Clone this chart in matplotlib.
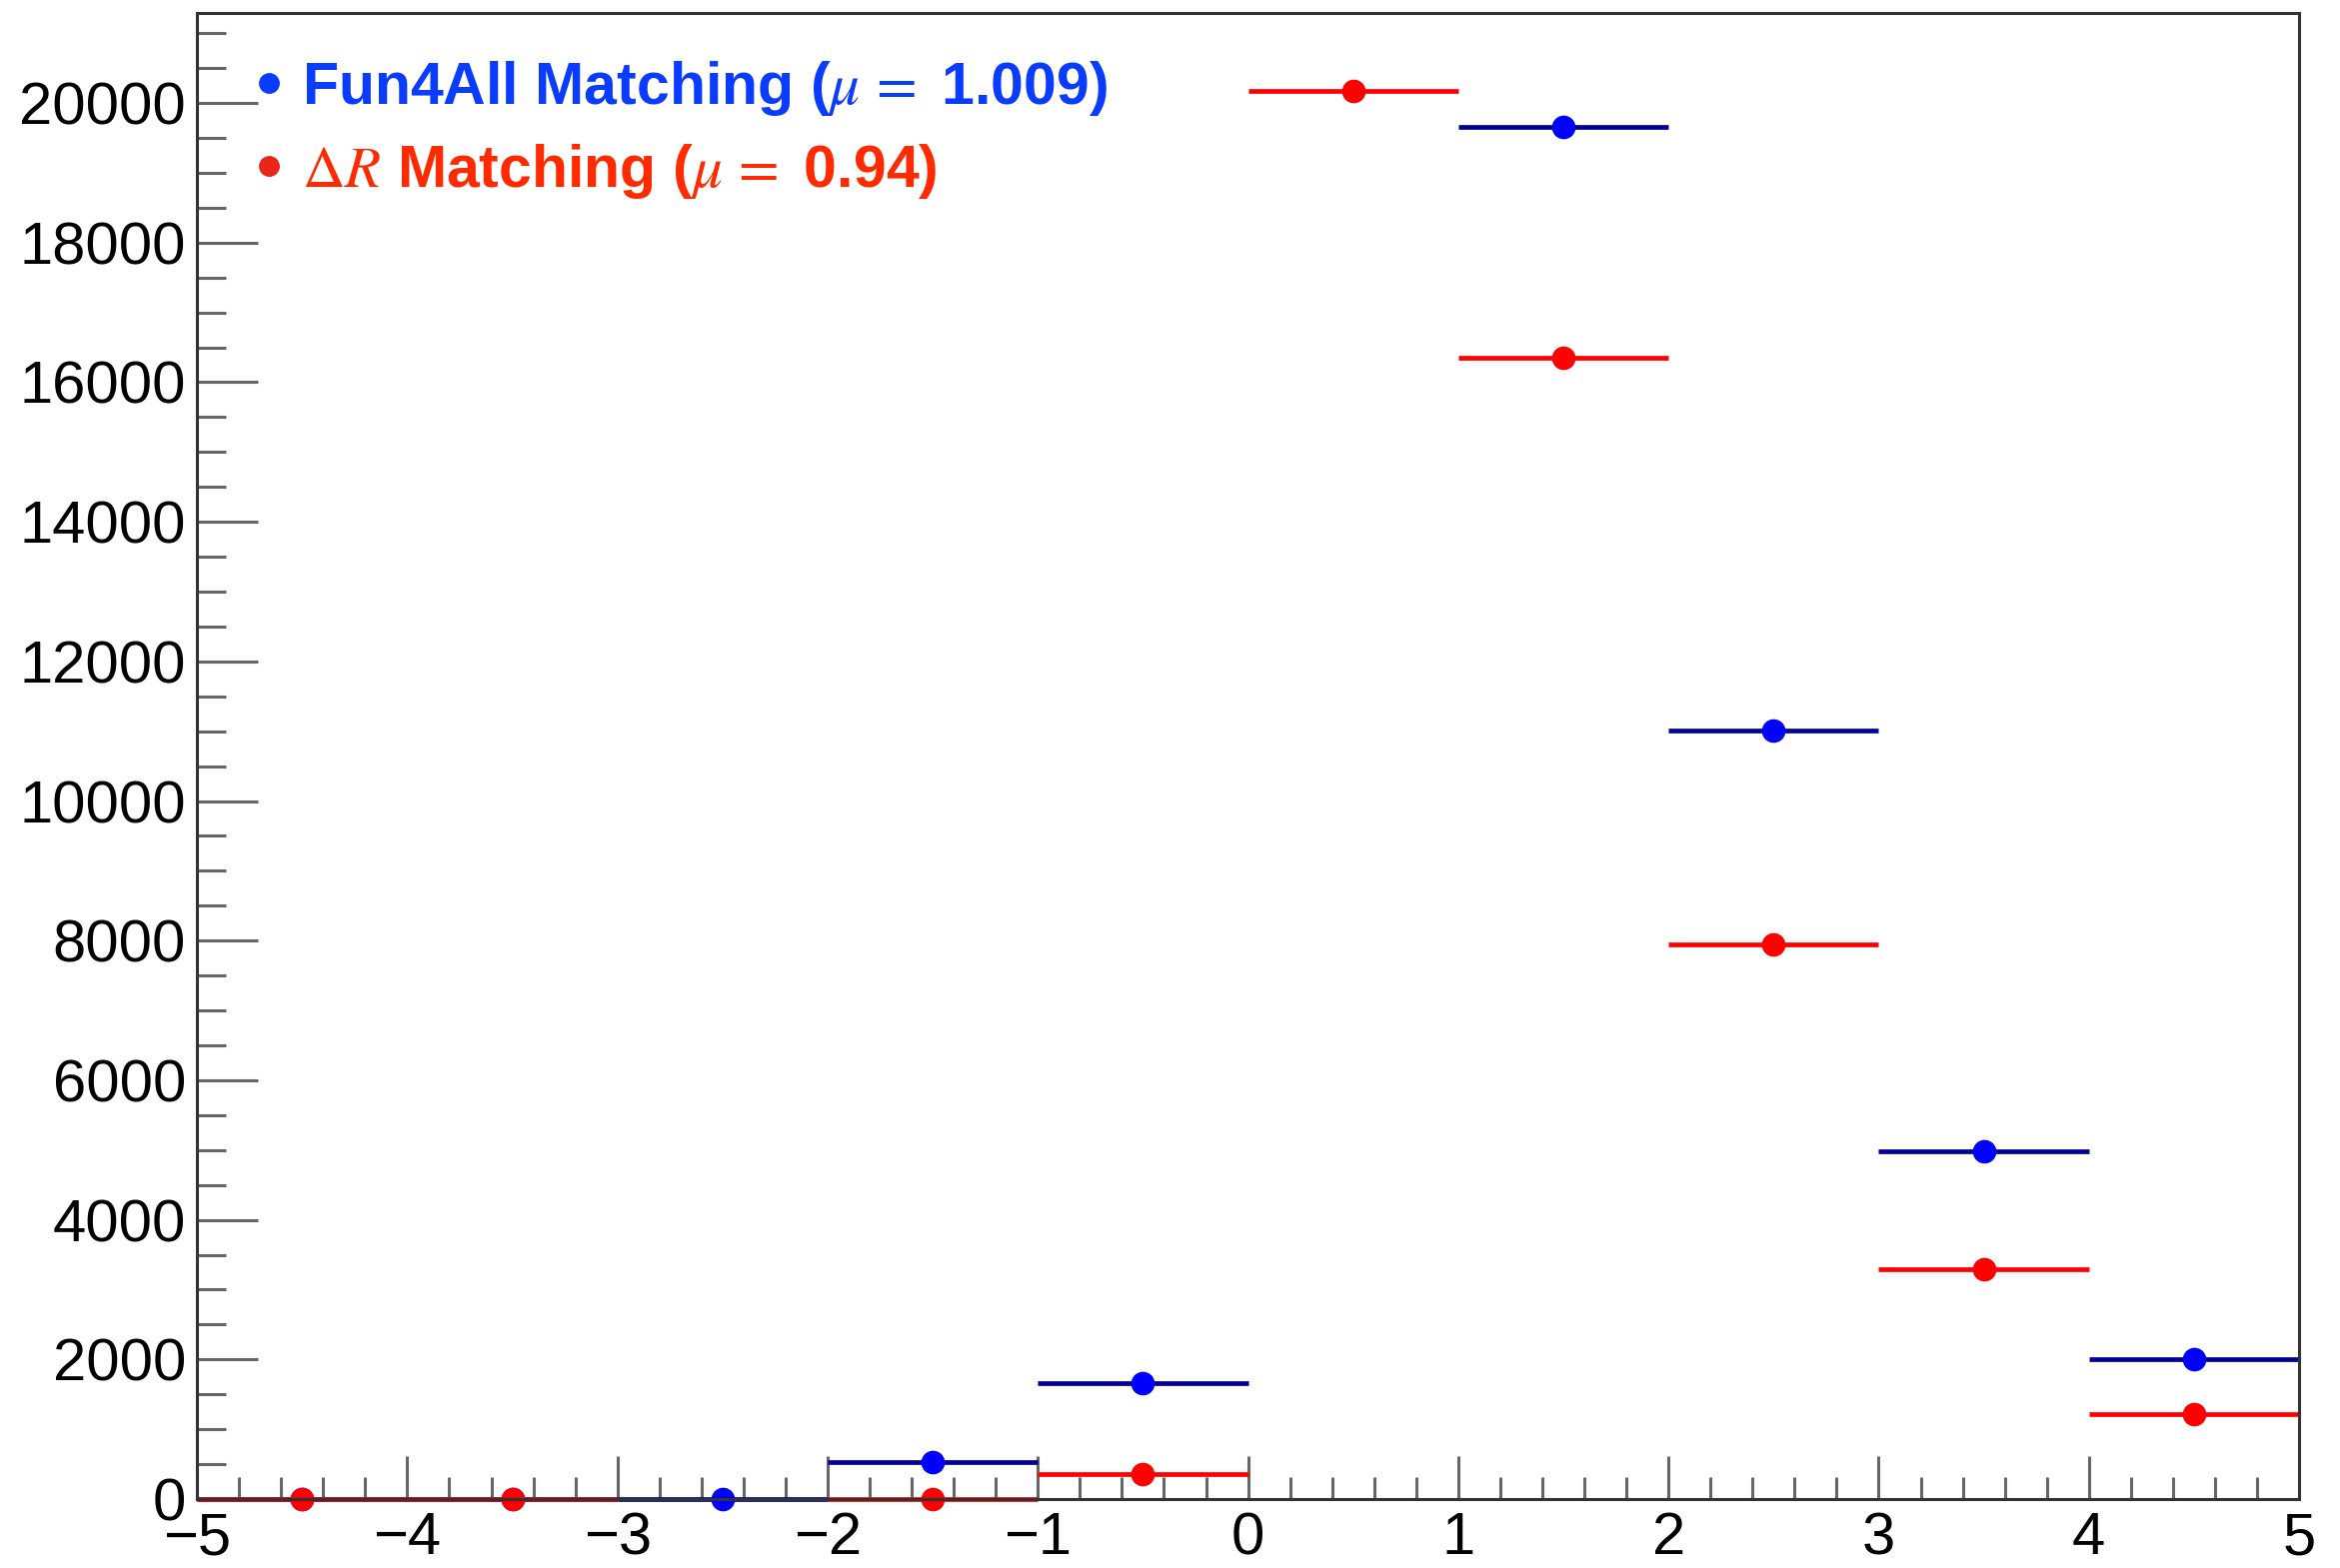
import numpy as np
import matplotlib.pyplot as plt
from matplotlib.lines import Line2D
from matplotlib.ticker import MultipleLocator

plt.rcParams['font.family'] = ['Liberation Sans', 'DejaVu Sans']
plt.rcParams['mathtext.fontset'] = 'stix'

# bin centres (unit width bins from -5 to 5)
bin_centers = np.array([-4.5, -3.5, -2.5, -1.5, -0.5, 0.5, 1.5, 2.5, 3.5, 4.5])
bin_halfwidth = 0.5

# counts per bin; nan = no point drawn in that bin
fun4all_counts = np.array([0, 0, 0, 534, 1665, np.nan, 19660, 11010, 4975, 2005])
dr_counts = np.array([0, 0, np.nan, 0, 363, 20170, 16350, 7940, 3287, 1217])

fun4all_label = r'Fun4All Matching ($\mu\,=$ 1.009)'
dr_label = r'$\Delta R$ Matching ($\mu\,=$ 0.94)'

fig = plt.figure(figsize=(23.41, 15.69), dpi=100)
ax = fig.add_axes([0.0842, 0.044, 0.8983, 0.9477])

def draw(y, mcolor, ecolor):
    m = ~np.isnan(y)
    cont = ax.errorbar(bin_centers[m], y[m], xerr=bin_halfwidth, fmt='o',
                       color=mcolor, ecolor=ecolor, markersize=16,
                       elinewidth=3.4, capsize=0)
    for art in cont.get_children():
        art.set_clip_on(False)

draw(fun4all_counts, '#0000ff', '#000099')
draw(dr_counts, '#ff0000', '#ff0000')

ax.set_xlim(-5, 5)
ax.set_ylim(0, 21290)

ax.xaxis.set_major_locator(MultipleLocator(1))
ax.xaxis.set_minor_locator(MultipleLocator(0.2))
ax.yaxis.set_major_locator(MultipleLocator(2000))
ax.yaxis.set_minor_locator(MultipleLocator(500))

ax.tick_params(axis='both', which='both', direction='in', color='#666666',
               width=2.2, labelsize=43)
ax.tick_params(axis='y', which='major', length=44, pad=8)
ax.tick_params(axis='y', which='minor', length=21)
ax.tick_params(axis='x', which='major', length=31, pad=9)
ax.tick_params(axis='x', which='minor', length=16)

for s in ax.spines.values():
    s.set_linewidth(2.2)
    s.set_color('#333333')

handles = [Line2D([], [], marker='o', ls='none', color='#0a3cff', markersize=14),
           Line2D([], [], marker='o', ls='none', color='#e8261a', markersize=14)]
leg = ax.legend(handles, [fun4all_label, dr_label], loc='upper left',
                bbox_to_anchor=(0.0258, 0.969), frameon=False, borderpad=0,
                borderaxespad=0, handlelength=0.6, handletextpad=0.26,
                labelspacing=0.4,
                prop={'family': 'Liberation Sans', 'weight': 'bold', 'size': 42.5},
                labelcolor=['#0a3cff', '#ff2a00'])

fig.savefig('out.png', dpi=100)
